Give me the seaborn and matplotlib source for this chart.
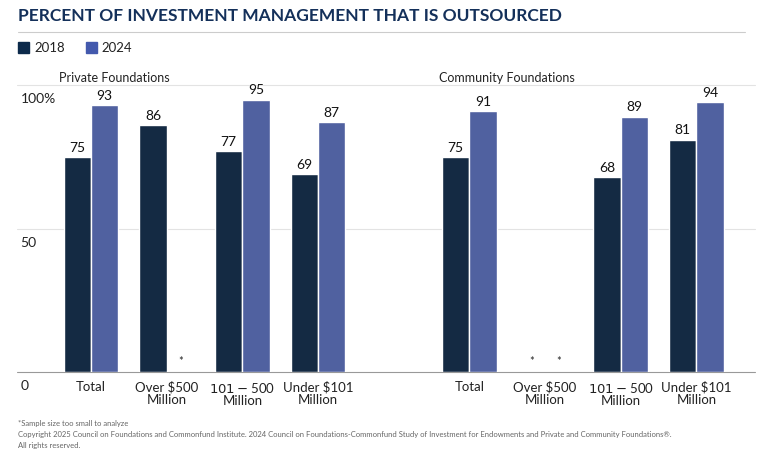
import pandas as pd
import numpy as np
import matplotlib.pyplot as plt
import seaborn as sns

categories = ["P_Total", "P_Over500", "P_101_500", "P_Under101", "gap",
              "C_Total", "C_Over500", "C_101_500", "C_Under101"]
tick_labels = ["Total", "Over $500\nMillion", "$101-$500\nMillion", "Under $101\nMillion", "",
               "Total", "Over $500\nMillion", "$101-$500\nMillion", "Under $101\nMillion"]
vals_2018 = [75, 86, 77, 69, np.nan, 75, np.nan, 68, 81]
vals_2024 = [93, np.nan, 95, 87, np.nan, 91, np.nan, 89, 94]

df = pd.DataFrame({
    "cat": categories * 2,
    "year": ["2018"] * len(categories) + ["2024"] * len(categories),
    "val": vals_2018 + vals_2024,
})

c18 = "#0c2a4b"
c24 = "#4359ad"
navy = "#14305a"

sns.set_style("white")
plt.rcParams["font.family"] = ["Lato", "DejaVu Sans"]

fig = plt.figure(figsize=(7.6, 4.56), dpi=100)
ax = fig.add_axes([0.07, 0.182, 0.896, 0.629])
sns.barplot(data=df, x="cat", y="val", hue="year", order=categories,
            palette=[c18, c24], width=0.72, gap=0.0, legend=False, ax=ax)
ax.set_ylim(0, 100)
ax.set_xlim(-0.5, 8.5)
ax.set_xlabel("")
ax.set_ylabel("")
ax.set_yticks([])
ax.set_xticks(range(len(categories)))
ax.set_xticklabels(tick_labels, fontsize=9.5, color="#222222", linespacing=1.0)
ax.tick_params(axis="x", length=0, pad=6)
for s in ax.spines.values():
    s.set_visible(False)

for bars in ax.containers:
    for b in bars:
        h = b.get_height()
        if not np.isnan(h) and h > 0:
            ax.text(b.get_x() + b.get_width() / 2, h + 1.5, f"{h:.0f}",
                    ha="center", va="bottom", fontsize=10, color="#111111", clip_on=False)

# asterisks for missing values
off = 0.72 / 4
for i, c in enumerate(categories):
    if c == "gap":
        continue
    if np.isnan(vals_2018[i]):
        ax.text(i - off, 2, "*", ha="center", va="bottom", fontsize=8)
    if np.isnan(vals_2024[i]):
        ax.text(i + off, 2, "*", ha="center", va="bottom", fontsize=8)

# gridlines and y labels
for y, lab, col in [(0, "0", "#999999"), (50, "50", "#e3e3e3"), (100, "100%", "#e3e3e3")]:
    ax.plot([-0.98, 8.78], [y, y], color=col, lw=0.8, clip_on=False, zorder=0)
    ax.text(-0.93, y - 2.5, lab, ha="left", va="top", fontsize=10, color="#222222")

fig.text(0.024, 0.965, "PERCENT OF INVESTMENT MANAGEMENT THAT IS OUTSOURCED",
         fontsize=12.5, fontweight="bold", color=navy, va="center")
fig.add_artist(plt.Line2D([0.024, 0.98], [0.927, 0.927], color="#cccccc", lw=0.8))

fig.patches.append(plt.Rectangle((0.024, 0.882), 0.014, 0.024, color=c18, transform=fig.transFigure))
fig.text(0.045, 0.894, "2018", fontsize=9.5, va="center", color="#222222")
fig.patches.append(plt.Rectangle((0.113, 0.882), 0.014, 0.024, color=c24, transform=fig.transFigure))
fig.text(0.134, 0.894, "2024", fontsize=9.5, va="center", color="#222222")

fig.text(0.078, 0.828, "Private Foundations", fontsize=9, va="center", color="#222222")
fig.text(0.578, 0.828, "Community Foundations", fontsize=9, va="center", color="#222222")

fig.text(0.024, 0.072, "*Sample size too small to analyze", fontsize=5.5, color="#666666", va="center")
fig.text(0.024, 0.047, "Copyright 2025 Council on Foundations and Commonfund Institute. 2024 Council on Foundations-Commonfund Study of Investment for Endowments and Private and Community Foundations\u00ae.",
         fontsize=5.5, color="#666666", va="center")
fig.text(0.024, 0.022, "All rights reserved.", fontsize=5.5, color="#666666", va="center")

fig.savefig("out.png", dpi=100)
